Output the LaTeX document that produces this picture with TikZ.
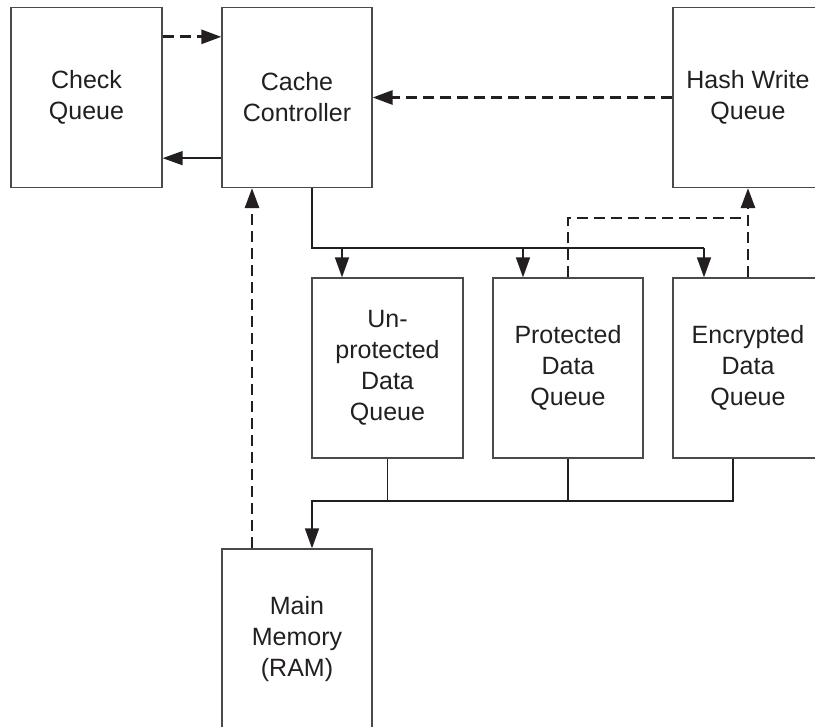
\documentclass[tikz,border=0pt]{standalone}
\usepackage{fontspec}
\setmainfont{Liberation Sans}
\usetikzlibrary{arrows.meta}
\definecolor{ink}{HTML}{231F20}
\definecolor{boxline}{HTML}{4A4A4A}
\tikzset{
  blk/.style={draw=boxline, line width=1.3pt, rectangle, minimum width=150pt, minimum height=180pt,
    inner sep=0pt, align=center, text=ink, font=\fontsize{25}{31}\selectfont},
  conn/.style={draw=ink, line width=1.6pt},
  dsh/.style={draw=ink, line width=2.8pt, dash pattern=on 11pt off 6pt},
  arr/.style={-{Triangle[length=20pt,width=14pt]}},
}
\begin{document}
\begin{tikzpicture}[x=1pt,y=-1pt]
\clip (0,0) rectangle (815,727);
\fill[white] (0,0) rectangle (815,727);
% boxes
\node[blk, minimum width=151pt] (check) at (86.5,97.5) {Check\\Queue};
\node[blk] (cache) at (297,97.5) {Cache\\Controller};
\node[blk] (hash) at (748,97.5) {Hash Write\\Queue};
\node[blk, minimum width=151pt] (unp) at (387.5,368) {Un-\\protected\\Data\\Queue};
\node[blk] (prot) at (568,368) {Protected\\Data\\Queue};
\node[blk] (enc) at (748,368) {Encrypted\\Data\\Queue};
\node[blk] (mem) at (297,639) {Main\\Memory\\(RAM)};
% check <-> cache
\draw[dsh,arr] ([yshift=-30pt]check.north east) -- ([yshift=-30pt]cache.north west);
\draw[conn,arr] ([yshift=30pt]cache.south west) -- ([yshift=30pt]check.south east);
% hash -> cache
\draw[dsh,arr] (hash.west) -- (cache.east);
% cache -> data queues bus
\coordinate (b1) at (342,248);
\coordinate (b2) at (523,248);
\coordinate (b3) at (704,248);
\coordinate (cout) at ([xshift=15pt]cache.south);
\draw[conn] (cout) |- (b3);
\draw[conn,arr] (b1) -- (b1 |- unp.north);
\draw[conn,arr] (b2) -- (b2 |- prot.north);
\draw[conn,arr] (b3) -- (b3 |- enc.north);
% protected / encrypted -> hash write
\coordinate (j) at (748,218);
\draw[dsh] (prot.north) |- (j);
\draw[dsh,arr] (enc.north) -- (hash.south);
% data queues -> main memory
\coordinate (lb) at (0,501);
\coordinate (mtop) at ([xshift=15pt]mem.north);
\coordinate (eout) at ([xshift=-15pt]enc.south);
\draw[conn,arr] (eout) |- (mtop |- lb) -- (mtop);
\draw[conn] (unp.south) -- (unp.south |- lb);
\draw[conn] (prot.south) -- (prot.south |- lb);
% main memory -> cache
\coordinate (mdash) at ([xshift=-45pt]mem.north);
\draw[dsh,arr] (mdash) -- (mdash |- cache.south);
\end{tikzpicture}
\end{document}
